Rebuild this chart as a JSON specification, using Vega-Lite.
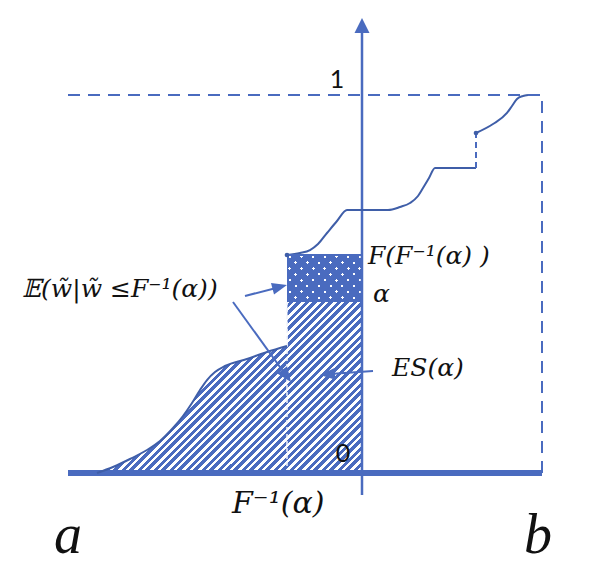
{
  "$schema": "https://vega.github.io/schema/vega-lite/v6.json",
  "width": 591,
  "height": 575,
  "autosize": {"type": "fit", "contains": "padding"},
  "padding": 0,
  "background": "white",
  "config": {"view": {"stroke": null}},
  "encoding": {
    "x": {"field": "x", "type": "quantitative", "scale": {"domain": [-3.62, 2.29], "nice": false, "zero": false}, "axis": null},
    "y": {"field": "y", "type": "quantitative", "scale": {"domain": [-0.269841, 1.251323], "nice": false, "zero": false}, "axis": null}
  },
  "layer": [
    {
      "data": {"values": [{"x": -2.65, "x2": 0, "y": 0, "y2": 0.4524}]},
      "mark": {"type": "rect", "fill": {"gradient": "linear", "x1": 0, "y1": 0, "x2": 1.1616, "y2": 0.7496, "stops": [
        {"offset":0.0103,"color":"#4a6bbf"},{"offset":0.0103,"color":"#fff"},{"offset":0.0183,"color":"#fff"},{"offset":0.0183,"color":"#4a6bbf"},
        {"offset":0.0287,"color":"#4a6bbf"},{"offset":0.0287,"color":"#fff"},{"offset":0.0367,"color":"#fff"},{"offset":0.0367,"color":"#4a6bbf"},
        {"offset":0.0470,"color":"#4a6bbf"},{"offset":0.0470,"color":"#fff"},{"offset":0.0550,"color":"#fff"},{"offset":0.0550,"color":"#4a6bbf"},
        {"offset":0.0654,"color":"#4a6bbf"},{"offset":0.0654,"color":"#fff"},{"offset":0.0734,"color":"#fff"},{"offset":0.0734,"color":"#4a6bbf"},
        {"offset":0.0837,"color":"#4a6bbf"},{"offset":0.0837,"color":"#fff"},{"offset":0.0917,"color":"#fff"},{"offset":0.0917,"color":"#4a6bbf"},
        {"offset":0.1021,"color":"#4a6bbf"},{"offset":0.1021,"color":"#fff"},{"offset":0.1101,"color":"#fff"},{"offset":0.1101,"color":"#4a6bbf"},
        {"offset":0.1204,"color":"#4a6bbf"},{"offset":0.1204,"color":"#fff"},{"offset":0.1284,"color":"#fff"},{"offset":0.1284,"color":"#4a6bbf"},
        {"offset":0.1388,"color":"#4a6bbf"},{"offset":0.1388,"color":"#fff"},{"offset":0.1468,"color":"#fff"},{"offset":0.1468,"color":"#4a6bbf"},
        {"offset":0.1571,"color":"#4a6bbf"},{"offset":0.1571,"color":"#fff"},{"offset":0.1651,"color":"#fff"},{"offset":0.1651,"color":"#4a6bbf"},
        {"offset":0.1755,"color":"#4a6bbf"},{"offset":0.1755,"color":"#fff"},{"offset":0.1835,"color":"#fff"},{"offset":0.1835,"color":"#4a6bbf"},
        {"offset":0.1938,"color":"#4a6bbf"},{"offset":0.1938,"color":"#fff"},{"offset":0.2018,"color":"#fff"},{"offset":0.2018,"color":"#4a6bbf"},
        {"offset":0.2122,"color":"#4a6bbf"},{"offset":0.2122,"color":"#fff"},{"offset":0.2202,"color":"#fff"},{"offset":0.2202,"color":"#4a6bbf"},
        {"offset":0.2305,"color":"#4a6bbf"},{"offset":0.2305,"color":"#fff"},{"offset":0.2385,"color":"#fff"},{"offset":0.2385,"color":"#4a6bbf"},
        {"offset":0.2489,"color":"#4a6bbf"},{"offset":0.2489,"color":"#fff"},{"offset":0.2569,"color":"#fff"},{"offset":0.2569,"color":"#4a6bbf"},
        {"offset":0.2672,"color":"#4a6bbf"},{"offset":0.2672,"color":"#fff"},{"offset":0.2752,"color":"#fff"},{"offset":0.2752,"color":"#4a6bbf"},
        {"offset":0.2856,"color":"#4a6bbf"},{"offset":0.2856,"color":"#fff"},{"offset":0.2936,"color":"#fff"},{"offset":0.2936,"color":"#4a6bbf"},
        {"offset":0.3039,"color":"#4a6bbf"},{"offset":0.3039,"color":"#fff"},{"offset":0.3119,"color":"#fff"},{"offset":0.3119,"color":"#4a6bbf"},
        {"offset":0.3222,"color":"#4a6bbf"},{"offset":0.3222,"color":"#fff"},{"offset":0.3303,"color":"#fff"},{"offset":0.3303,"color":"#4a6bbf"},
        {"offset":0.3406,"color":"#4a6bbf"},{"offset":0.3406,"color":"#fff"},{"offset":0.3486,"color":"#fff"},{"offset":0.3486,"color":"#4a6bbf"},
        {"offset":0.3589,"color":"#4a6bbf"},{"offset":0.3589,"color":"#fff"},{"offset":0.3670,"color":"#fff"},{"offset":0.3670,"color":"#4a6bbf"},
        {"offset":0.3773,"color":"#4a6bbf"},{"offset":0.3773,"color":"#fff"},{"offset":0.3853,"color":"#fff"},{"offset":0.3853,"color":"#4a6bbf"},
        {"offset":0.3956,"color":"#4a6bbf"},{"offset":0.3956,"color":"#fff"},{"offset":0.4037,"color":"#fff"},{"offset":0.4037,"color":"#4a6bbf"},
        {"offset":0.4140,"color":"#4a6bbf"},{"offset":0.4140,"color":"#fff"},{"offset":0.4220,"color":"#fff"},{"offset":0.4220,"color":"#4a6bbf"},
        {"offset":0.4323,"color":"#4a6bbf"},{"offset":0.4323,"color":"#fff"},{"offset":0.4404,"color":"#fff"},{"offset":0.4404,"color":"#4a6bbf"},
        {"offset":0.4507,"color":"#4a6bbf"},{"offset":0.4507,"color":"#fff"},{"offset":0.4587,"color":"#fff"},{"offset":0.4587,"color":"#4a6bbf"},
        {"offset":0.4690,"color":"#4a6bbf"},{"offset":0.4690,"color":"#fff"},{"offset":0.4771,"color":"#fff"},{"offset":0.4771,"color":"#4a6bbf"},
        {"offset":0.4874,"color":"#4a6bbf"},{"offset":0.4874,"color":"#fff"},{"offset":0.4954,"color":"#fff"},{"offset":0.4954,"color":"#4a6bbf"},
        {"offset":0.5057,"color":"#4a6bbf"},{"offset":0.5057,"color":"#fff"},{"offset":0.5138,"color":"#fff"},{"offset":0.5138,"color":"#4a6bbf"},
        {"offset":0.5241,"color":"#4a6bbf"},{"offset":0.5241,"color":"#fff"},{"offset":0.5321,"color":"#fff"},{"offset":0.5321,"color":"#4a6bbf"},
        {"offset":0.5424,"color":"#4a6bbf"},{"offset":0.5424,"color":"#fff"},{"offset":0.5505,"color":"#fff"},{"offset":0.5505,"color":"#4a6bbf"},
        {"offset":0.5608,"color":"#4a6bbf"},{"offset":0.5608,"color":"#fff"},{"offset":0.5688,"color":"#fff"},{"offset":0.5688,"color":"#4a6bbf"},
        {"offset":0.5791,"color":"#4a6bbf"},{"offset":0.5791,"color":"#fff"},{"offset":0.5872,"color":"#fff"},{"offset":0.5872,"color":"#4a6bbf"},
        {"offset":0.5975,"color":"#4a6bbf"},{"offset":0.5975,"color":"#fff"},{"offset":0.6055,"color":"#fff"},{"offset":0.6055,"color":"#4a6bbf"},
        {"offset":0.6158,"color":"#4a6bbf"},{"offset":0.6158,"color":"#fff"},{"offset":0.6239,"color":"#fff"},{"offset":0.6239,"color":"#4a6bbf"},
        {"offset":0.6342,"color":"#4a6bbf"},{"offset":0.6342,"color":"#fff"},{"offset":0.6422,"color":"#fff"},{"offset":0.6422,"color":"#4a6bbf"},
        {"offset":0.6525,"color":"#4a6bbf"},{"offset":0.6525,"color":"#fff"},{"offset":0.6606,"color":"#fff"},{"offset":0.6606,"color":"#4a6bbf"},
        {"offset":0.6709,"color":"#4a6bbf"},{"offset":0.6709,"color":"#fff"},{"offset":0.6789,"color":"#fff"},{"offset":0.6789,"color":"#4a6bbf"},
        {"offset":0.6892,"color":"#4a6bbf"},{"offset":0.6892,"color":"#fff"},{"offset":0.6972,"color":"#fff"},{"offset":0.6972,"color":"#4a6bbf"},
        {"offset":0.7076,"color":"#4a6bbf"},{"offset":0.7076,"color":"#fff"},{"offset":0.7156,"color":"#fff"},{"offset":0.7156,"color":"#4a6bbf"},
        {"offset":0.7259,"color":"#4a6bbf"},{"offset":0.7259,"color":"#fff"},{"offset":0.7339,"color":"#fff"},{"offset":0.7339,"color":"#4a6bbf"},
        {"offset":0.7443,"color":"#4a6bbf"},{"offset":0.7443,"color":"#fff"},{"offset":0.7523,"color":"#fff"},{"offset":0.7523,"color":"#4a6bbf"},
        {"offset":0.7626,"color":"#4a6bbf"},{"offset":0.7626,"color":"#fff"},{"offset":0.7706,"color":"#fff"},{"offset":0.7706,"color":"#4a6bbf"},
        {"offset":0.7810,"color":"#4a6bbf"},{"offset":0.7810,"color":"#fff"},{"offset":0.7890,"color":"#fff"},{"offset":0.7890,"color":"#4a6bbf"},
        {"offset":0.7993,"color":"#4a6bbf"},{"offset":0.7993,"color":"#fff"},{"offset":0.8073,"color":"#fff"},{"offset":0.8073,"color":"#4a6bbf"},
        {"offset":0.8177,"color":"#4a6bbf"},{"offset":0.8177,"color":"#fff"},{"offset":0.8257,"color":"#fff"},{"offset":0.8257,"color":"#4a6bbf"},
        {"offset":0.8360,"color":"#4a6bbf"},{"offset":0.8360,"color":"#fff"},{"offset":0.8440,"color":"#fff"},{"offset":0.8440,"color":"#4a6bbf"},
        {"offset":0.8543,"color":"#4a6bbf"},{"offset":0.8543,"color":"#fff"},{"offset":0.8624,"color":"#fff"},{"offset":0.8624,"color":"#4a6bbf"},
        {"offset":0.8727,"color":"#4a6bbf"},{"offset":0.8727,"color":"#fff"},{"offset":0.8807,"color":"#fff"},{"offset":0.8807,"color":"#4a6bbf"},
        {"offset":0.8910,"color":"#4a6bbf"},{"offset":0.8910,"color":"#fff"},{"offset":0.8991,"color":"#fff"},{"offset":0.8991,"color":"#4a6bbf"},
        {"offset":0.9094,"color":"#4a6bbf"},{"offset":0.9094,"color":"#fff"},{"offset":0.9174,"color":"#fff"},{"offset":0.9174,"color":"#4a6bbf"},
        {"offset":0.9277,"color":"#4a6bbf"},{"offset":0.9277,"color":"#fff"},{"offset":0.9358,"color":"#fff"},{"offset":0.9358,"color":"#4a6bbf"},
        {"offset":0.9461,"color":"#4a6bbf"},{"offset":0.9461,"color":"#fff"},{"offset":0.9541,"color":"#fff"},{"offset":0.9541,"color":"#4a6bbf"},
        {"offset":0.9644,"color":"#4a6bbf"},{"offset":0.9644,"color":"#fff"},{"offset":0.9725,"color":"#fff"},{"offset":0.9725,"color":"#4a6bbf"},
        {"offset":0.9828,"color":"#4a6bbf"},{"offset":0.9828,"color":"#fff"},{"offset":0.9908,"color":"#fff"},{"offset":0.9908,"color":"#4a6bbf"}
      ]}},
      "encoding": {"x2": {"field": "x2"}, "y2": {"field": "y2"}}
    },
    {
      "data": {"values": [
        {"x": -2.65, "y": 0}, {"x": -2.49, "y": 0.0159}, {"x": -2.32, "y": 0.037}, {"x": -2.15, "y": 0.0608},
        {"x": -2.02, "y": 0.0847}, {"x": -1.89, "y": 0.119}, {"x": -1.79, "y": 0.1508}, {"x": -1.7, "y": 0.1852},
        {"x": -1.62, "y": 0.2196}, {"x": -1.55, "y": 0.246}, {"x": -1.47, "y": 0.2672}, {"x": -1.37, "y": 0.2831},
        {"x": -1.15, "y": 0.3016}, {"x": -0.95, "y": 0.3201}, {"x": -0.75, "y": 0.336}
      ]},
      "mark": {"type": "area", "interpolate": "monotone", "fill": "white", "stroke": "white", "strokeWidth": 1},
      "encoding": {"y2": {"datum": 0.4524}}
    },
    {
      "data": {"values": [{"x": -0.75, "x2": 0, "y": 0.4524, "y2": 0.5741}]},
      "mark": {"type": "rect", "fill": "#4a6bbf"},
      "encoding": {"x2": {"field": "x2"}, "y2": {"field": "y2"}}
    },
    {
      "data": {"values": [{"x": -0.75, "x2": 0, "y": 0.4524, "y2": 0.5741}]},
      "mark": {"type": "rect", "fill": {"gradient": "linear", "x1": 0, "y1": 0, "x2": 1.1723, "y2": 0.719, "stops": [
        {"offset":0,"color":"rgba(255,255,255,0)"},
        {"offset":0.0174,"color":"rgba(255,255,255,0)"},{"offset":0.0174,"color":"#fff"},{"offset":0.0421,"color":"#fff"},{"offset":0.0421,"color":"rgba(255,255,255,0)"},
        {"offset":0.1140,"color":"rgba(255,255,255,0)"},{"offset":0.1140,"color":"#fff"},{"offset":0.1388,"color":"#fff"},{"offset":0.1388,"color":"rgba(255,255,255,0)"},
        {"offset":0.2107,"color":"rgba(255,255,255,0)"},{"offset":0.2107,"color":"#fff"},{"offset":0.2355,"color":"#fff"},{"offset":0.2355,"color":"rgba(255,255,255,0)"},
        {"offset":0.3074,"color":"rgba(255,255,255,0)"},{"offset":0.3074,"color":"#fff"},{"offset":0.3322,"color":"#fff"},{"offset":0.3322,"color":"rgba(255,255,255,0)"},
        {"offset":0.4041,"color":"rgba(255,255,255,0)"},{"offset":0.4041,"color":"#fff"},{"offset":0.4289,"color":"#fff"},{"offset":0.4289,"color":"rgba(255,255,255,0)"},
        {"offset":0.5008,"color":"rgba(255,255,255,0)"},{"offset":0.5008,"color":"#fff"},{"offset":0.5256,"color":"#fff"},{"offset":0.5256,"color":"rgba(255,255,255,0)"},
        {"offset":0.5975,"color":"rgba(255,255,255,0)"},{"offset":0.5975,"color":"#fff"},{"offset":0.6223,"color":"#fff"},{"offset":0.6223,"color":"rgba(255,255,255,0)"},
        {"offset":0.6942,"color":"rgba(255,255,255,0)"},{"offset":0.6942,"color":"#fff"},{"offset":0.7190,"color":"#fff"},{"offset":0.7190,"color":"rgba(255,255,255,0)"},
        {"offset":0.7909,"color":"rgba(255,255,255,0)"},{"offset":0.7909,"color":"#fff"},{"offset":0.8157,"color":"#fff"},{"offset":0.8157,"color":"rgba(255,255,255,0)"},
        {"offset":0.8876,"color":"rgba(255,255,255,0)"},{"offset":0.8876,"color":"#fff"},{"offset":0.9124,"color":"#fff"},{"offset":0.9124,"color":"rgba(255,255,255,0)"},
        {"offset":0.9843,"color":"rgba(255,255,255,0)"},{"offset":0.9843,"color":"#fff"},{"offset":1,"color":"#fff"}
      ]}},
      "encoding": {"x2": {"field": "x2"}, "y2": {"field": "y2"}}
    },
    {
      "data": {"values": [{"x": -0.75, "x2": 0, "y": 0.4524, "y2": 0.5741}]},
      "mark": {"type": "rect", "fill": {"gradient": "linear", "x1": 0, "y1": 1, "x2": 1.1723, "y2": 0.281, "stops": [
        {"offset":0,"color":"rgba(74,107,191,0)"},{"offset":0.0215,"color":"rgba(74,107,191,0)"},{"offset":0.0215,"color":"#4a6bbf"},
        {"offset":0.0934,"color":"#4a6bbf"},{"offset":0.0934,"color":"rgba(74,107,191,0)"},{"offset":0.1182,"color":"rgba(74,107,191,0)"},{"offset":0.1182,"color":"#4a6bbf"},
        {"offset":0.1901,"color":"#4a6bbf"},{"offset":0.1901,"color":"rgba(74,107,191,0)"},{"offset":0.2149,"color":"rgba(74,107,191,0)"},{"offset":0.2149,"color":"#4a6bbf"},
        {"offset":0.2868,"color":"#4a6bbf"},{"offset":0.2868,"color":"rgba(74,107,191,0)"},{"offset":0.3116,"color":"rgba(74,107,191,0)"},{"offset":0.3116,"color":"#4a6bbf"},
        {"offset":0.3835,"color":"#4a6bbf"},{"offset":0.3835,"color":"rgba(74,107,191,0)"},{"offset":0.4083,"color":"rgba(74,107,191,0)"},{"offset":0.4083,"color":"#4a6bbf"},
        {"offset":0.4802,"color":"#4a6bbf"},{"offset":0.4802,"color":"rgba(74,107,191,0)"},{"offset":0.5050,"color":"rgba(74,107,191,0)"},{"offset":0.5050,"color":"#4a6bbf"},
        {"offset":0.5769,"color":"#4a6bbf"},{"offset":0.5769,"color":"rgba(74,107,191,0)"},{"offset":0.6017,"color":"rgba(74,107,191,0)"},{"offset":0.6017,"color":"#4a6bbf"},
        {"offset":0.6736,"color":"#4a6bbf"},{"offset":0.6736,"color":"rgba(74,107,191,0)"},{"offset":0.6983,"color":"rgba(74,107,191,0)"},{"offset":0.6983,"color":"#4a6bbf"},
        {"offset":0.7702,"color":"#4a6bbf"},{"offset":0.7702,"color":"rgba(74,107,191,0)"},{"offset":0.7950,"color":"rgba(74,107,191,0)"},{"offset":0.7950,"color":"#4a6bbf"},
        {"offset":0.8669,"color":"#4a6bbf"},{"offset":0.8669,"color":"rgba(74,107,191,0)"},{"offset":0.8917,"color":"rgba(74,107,191,0)"},{"offset":0.8917,"color":"#4a6bbf"},
        {"offset":0.9636,"color":"#4a6bbf"},{"offset":0.9636,"color":"rgba(74,107,191,0)"},{"offset":0.9884,"color":"rgba(74,107,191,0)"},{"offset":0.9884,"color":"#4a6bbf"}
      ]}},
      "encoding": {"x2": {"field": "x2"}, "y2": {"field": "y2"}}
    },
    {
      "data": {"values": [{"x": -0.75, "x2": -0.75, "y": 0, "y2": 0.4524}]},
      "mark": {"type": "rule", "stroke": "#f2f5fb", "strokeWidth": 1.5, "strokeDash": [4, 3]},
      "encoding": {"x2": {"field": "x2"}, "y2": {"field": "y2"}}
    },
    {
      "data": {"values": [{"x": -2.94, "x2": 1.8, "y": 1, "y2": 1}, {"x": 1.8, "x2": 1.8, "y": 0, "y2": 1}]},
      "mark": {"type": "rule", "stroke": "#4a6bbf", "strokeWidth": 2, "strokeDash": [12, 8]},
      "encoding": {"x2": {"field": "x2"}, "y2": {"field": "y2"}}
    },
    {
      "data": {"values": [{"x": -2.94, "x2": 1.8, "y": 0, "y2": 0}]},
      "mark": {"type": "rule", "stroke": "#4a6bbf", "strokeWidth": 6},
      "encoding": {"x2": {"field": "x2"}, "y2": {"field": "y2"}}
    },
    {
      "data": {"values": [{"x": 0, "x2": 0, "y": -0.0582, "y2": 1.17}]},
      "mark": {"type": "rule", "stroke": "#4a6bbf", "strokeWidth": 2.5},
      "encoding": {"x2": {"field": "x2"}, "y2": {"field": "y2"}}
    },
    {
      "data": {"values": [{"x": 0, "y": 1.2037}]},
      "mark": {"type": "point", "shape": "M0,0L0.5,1L-0.5,1Z", "size": 900, "filled": true, "fill": "#4a6bbf", "strokeWidth": 0, "opacity": 1}
    },
    {
      "data": {"values": [
        {"x": -2.65, "y": 0}, {"x": -2.49, "y": 0.0159}, {"x": -2.32, "y": 0.037}, {"x": -2.15, "y": 0.0608},
        {"x": -2.02, "y": 0.0847}, {"x": -1.89, "y": 0.119}, {"x": -1.79, "y": 0.1508}, {"x": -1.7, "y": 0.1852},
        {"x": -1.62, "y": 0.2196}, {"x": -1.55, "y": 0.246}, {"x": -1.47, "y": 0.2672}, {"x": -1.37, "y": 0.2831},
        {"x": -1.15, "y": 0.3016}, {"x": -0.95, "y": 0.3201}, {"x": -0.75, "y": 0.336}
      ]},
      "mark": {"type": "line", "interpolate": "monotone", "stroke": "#3f5ea8", "strokeWidth": 2}
    },
    {
      "data": {"values": [
        {"s": "u1", "x": -0.75, "y": 0.5767}, {"s": "u1", "x": -0.62, "y": 0.582}, {"s": "u1", "x": -0.52, "y": 0.5899},
        {"s": "u1", "x": -0.44, "y": 0.6058}, {"s": "u1", "x": -0.35, "y": 0.6349}, {"s": "u1", "x": -0.25, "y": 0.6667},
        {"s": "u1", "x": -0.15, "y": 0.6958}, {"s": "u1", "x": 0.26, "y": 0.6958}, {"s": "u1", "x": 0.38, "y": 0.7037},
        {"s": "u1", "x": 0.48, "y": 0.7143}, {"s": "u1", "x": 0.56, "y": 0.7328}, {"s": "u1", "x": 0.61, "y": 0.754},
        {"s": "u1", "x": 0.67, "y": 0.7804}, {"s": "u1", "x": 0.73, "y": 0.8069}, {"s": "u1", "x": 1.14, "y": 0.8069},
        {"s": "u2", "x": 1.14, "y": 0.8995}, {"s": "u2", "x": 1.31, "y": 0.9233}, {"s": "u2", "x": 1.45, "y": 0.9524},
        {"s": "u2", "x": 1.5, "y": 0.9709}, {"s": "u2", "x": 1.55, "y": 0.9894}, {"s": "u2", "x": 1.61, "y": 0.9974},
        {"s": "u2", "x": 1.66, "y": 1.0}
      ]},
      "mark": {"type": "line", "interpolate": "monotone", "stroke": "#3f5ea8", "strokeWidth": 2},
      "encoding": {"detail": {"field": "s"}}
    },
    {
      "data": {"values": [{"x": 1.14, "x2": 1.14, "y": 0.8069, "y2": 0.8995}]},
      "mark": {"type": "rule", "stroke": "#4a6bbf", "strokeWidth": 2, "strokeDash": [6, 4]},
      "encoding": {"x2": {"field": "x2"}, "y2": {"field": "y2"}}
    },
    {
      "data": {"values": [{"x": -0.75, "x2": 0, "y": 0.5767, "y2": 0.5767}]},
      "mark": {"type": "rule", "stroke": "#4a6bbf", "strokeWidth": 2},
      "encoding": {"x2": {"field": "x2"}, "y2": {"field": "y2"}}
    },
    {
      "data": {"values": [{"x": -0.75, "y": 0.5767}, {"x": 1.14, "y": 0.8995}]},
      "mark": {"type": "point", "shape": "circle", "size": 22, "filled": true, "fill": "#3f5ea8", "strokeWidth": 0, "opacity": 1}
    },
    {
      "data": {"values": [
        {"x": -1.17, "y": 0.4683, "x2": -0.82, "y2": 0.4921},
        {"x": -1.29, "y": 0.4524, "x2": -0.77, "y2": 0.2619},
        {"x": 0.11, "y": 0.2698, "x2": -0.32, "y2": 0.2619}
      ]},
      "mark": {"type": "rule", "stroke": "#4a6bbf", "strokeWidth": 2},
      "encoding": {"x2": {"field": "x2"}, "y2": {"field": "y2"}}
    },
    {
      "data": {"values": [
        {"x": -0.75, "y": 0.4974, "a": 75.3},
        {"x": -0.71, "y": 0.2407, "a": 144.1},
        {"x": -0.42, "y": 0.2593, "a": 265.7}
      ]},
      "mark": {"type": "point", "shape": "M0,0L0.4,1L-0.4,1Z", "size": 900, "filled": true, "fill": "#4a6bbf", "strokeWidth": 0, "opacity": 1},
      "encoding": {"angle": {"field": "a", "type": "quantitative", "scale": null}}
    },
    {
      "data": {"values": [{"x": -0.25, "y": 1.0185, "t": "1"}, {"x": -0.19, "y": 0.0291, "t": "0"}]},
      "mark": {"type": "text", "font": "Lato", "fontSize": 25, "align": "center", "baseline": "alphabetic", "color": "#111111"},
      "encoding": {"text": {"field": "t"}}
    },
    {
      "data": {"values": [
        {"x": 0.06, "y": 0.5529, "t": "F(F⁻¹(α) )"},
        {"x": 0.11, "y": 0.4524, "t": "α"},
        {"x": 0.3, "y": 0.2566, "t": "ES(α)"},
        {"x": -3.4, "y": 0.4656, "t": "𝔼(w̃|w̃ ≤F⁻¹(α))"}
      ]},
      "mark": {"type": "text", "font": "DejaVu Serif", "fontStyle": "italic", "fontSize": 25, "align": "left", "baseline": "alphabetic", "color": "#111111"},
      "encoding": {"text": {"field": "t"}}
    },
    {
      "data": {"values": [{"x": -1.3, "y": -0.1058, "t": "F⁻¹(α)"}]},
      "mark": {"type": "text", "font": "DejaVu Serif", "fontStyle": "italic", "fontSize": 30, "align": "left", "baseline": "alphabetic", "color": "#111111"},
      "encoding": {"text": {"field": "t"}}
    },
    {
      "data": {"values": [{"x": -2.94, "y": -0.2116, "t": "a"}, {"x": 1.76, "y": -0.2116, "t": "b"}]},
      "mark": {"type": "text", "font": "Liberation Serif", "fontStyle": "italic", "fontSize": 56, "align": "center", "baseline": "alphabetic", "color": "#111111"},
      "encoding": {"text": {"field": "t"}}
    }
  ]
}
